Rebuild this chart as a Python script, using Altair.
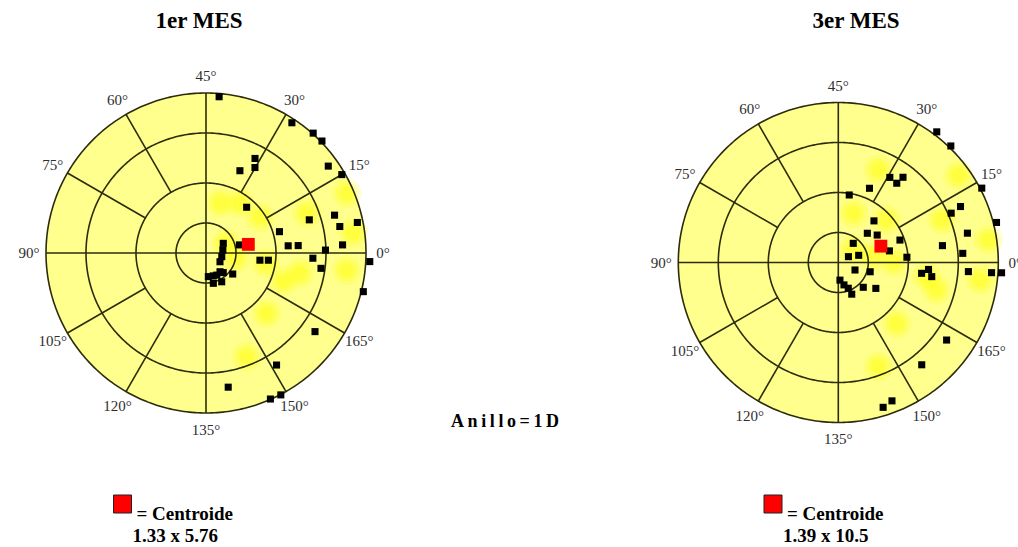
import altair as alt
import numpy as np
import pandas as pd

# ---- ring scale: magnitude (D) -> radius in plot units (outer ring = 1) ----
RING_D = [0, 1, 2, 3, 4, 5]
RING_R = [0, 0.1875, 0.4375, 0.75, 1.0, 1.25]
RINGS = [1, 2, 3, 4]
TICK_AXES = list(range(0, 180, 15))

# ---- 1er MES: axis (deg) and magnitude (D) of each eye ----
M1_AXIS = [42.6, 28.3, 24.1, 22.0, 17.7, 15.0, 31.3, 30.1, 33.8, 24.2,
           8.9, 8.2, 5.6, 5.7, 8.1, 1.7, 2.5, 2.3, 0.7, 178.5,
           178.6, 176.2, 176.2, 176.7, 173.1, 162.1, 151.1, 139.7, 146.9, 148.9,
           14.6, 5.1, 173.4, 6.8, 153.4, 143.8, 137.8, 148.0, 155.7, 160.9,
           141.8, 149.3, 164.0]
M1_MAG = [3.92, 3.90, 4.02, 4.03, 3.75, 3.92, 2.73, 2.57, 2.38, 1.78,
          2.77, 3.35, 3.41, 3.86, 2.13, 3.42, 2.25, 2.45, 2.99, 4.10,
          2.74, 2.92, 1.61, 1.82, 4.05, 3.36, 3.31, 3.40, 3.99, 4.01,
          0.66, 0.57, 0.54, 1.11, 0.78, 0.80, 0.79, 0.82, 0.87, 1.10,
          1.03, 1.07, 0.55]
M1_CENTROID = (1.33, 5.76)  # magnitude, axis
M1_DENS_AXIS = [37.0, 27.9, 16.8, 174.0, 170.0, 10.8, 11.5, 3.9, 176.5, 157.6, 145.7, 175.2, 175.2, 13.3]
M1_DENS_MAG = [1.55, 1.76, 1.87, 2.52, 2.25, 2.77, 3.82, 3.71, 3.54, 2.31, 2.83, 1.01, 1.77, 0.75]

# ---- 3er MES ----
M3_AXIS = [26.5, 23.0, 29.4, 26.8, 26.4, 33.6, 40.4, 13.7, 12.3, 11.8,
           7.1, 24.7, 22.6, 17.6, 10.0, 26.0, 6.4, 6.4, 4.6, 2.1,
           2.2, 15.0, 9.7, 167.9, 171.9, 176.3, 177.8, 175.7, 178.0, 178.1,
           178.2, 137.7, 142.1, 145.6, 146.5, 157.6, 162.7, 162.2, 154.6, 143.6,
           145.6]
M3_MAG = [4.09, 4.05, 2.59, 2.57, 2.74, 2.21, 1.96, 4.04, 3.36, 3.08,
          4.08, 1.62, 1.28, 1.44, 1.89, 0.81, 1.56, 3.31, 2.71, 3.12,
          1.97, 0.39, 0.72, 0.61, 1.08, 2.28, 2.41, 2.49, 3.26, 3.84,
          4.09, 0.59, 0.77, 0.92, 1.11, 1.13, 1.39, 3.33, 3.30, 3.79,
          3.71]
M3_CENTROID = (1.39, 10.5)
M3_DENS_AXIS = [33.3, 36.5, 20.7, 18.0, 11.2, 4.3, 175.4, 172.2, 176.5, 156.9, 145.5, 19.9, 4.7, 0.4]
M3_DENS_MAG = [2.62, 1.54, 1.86, 3.71, 2.84, 3.79, 2.39, 2.64, 3.57, 2.29, 2.83, 0.65, 1.14, 1.63]

FILL = "#FFFF8E"
DENS = "#FFFF00"
LINE = "#2C2C0C"
TEXT = "#2E2E2E"
SERIF = "Liberation Serif"
PX_PER_UNIT = 160.0
LABEL_R = 1.106


def to_xy(axis, mag):
    """Double-angle plot: axis angle is doubled, magnitude follows the ring scale."""
    r = np.interp(np.asarray(mag, dtype=float), RING_D, RING_R)
    t = np.deg2rad(2.0 * np.asarray(axis, dtype=float))
    return r * np.cos(t), r * np.sin(t)


def polar_panel(axis, mag, centroid, dens_axis, dens_mag, title, title_x,
                legend_x, width, height, cx, cy):
    xdom = [-cx / PX_PER_UNIT, (width - cx) / PX_PER_UNIT]
    ydom = [-(height - cy) / PX_PER_UNIT, cy / PX_PER_UNIT]
    sx = alt.Scale(domain=xdom, nice=False, zero=False)
    sy = alt.Scale(domain=ydom, nice=False, zero=False)

    def X(f):
        return alt.X(f, type="quantitative", scale=sx, axis=None)

    def Y(f):
        return alt.Y(f, type="quantitative", scale=sy, axis=None)

    # filled disc
    t = np.linspace(0, np.pi, 721)
    disc = pd.DataFrame({"x": np.cos(t), "y": np.sin(t), "y2": -np.sin(t)})
    disc_layer = alt.Chart(disc).mark_area(color=FILL, opacity=1).encode(
        x=X("x"), y=Y("y"), y2="y2")

    # density patches (soft, built from a few translucent discs)
    dx, dy = to_xy(dens_axis, dens_mag)
    dens = pd.DataFrame({"x": dx, "y": dy})
    dens_layers = [
        alt.Chart(dens).mark_circle(color=DENS, opacity=op, size=sz).encode(x=X("x"), y=Y("y"))
        for sz, op in [(900, 0.16), (500, 0.22), (220, 0.3)]
    ]

    # rings
    tt = np.linspace(0, 2 * np.pi, 361)
    ring_rows = []
    for d in RINGS:
        r = float(np.interp(d, RING_D, RING_R))
        for i, a in enumerate(tt):
            ring_rows.append({"ring": d, "i": i, "x": r * np.cos(a), "y": r * np.sin(a)})
    ring_layer = alt.Chart(pd.DataFrame(ring_rows)).mark_line(
        color=LINE, strokeWidth=1.6).encode(
        x=X("x"), y=Y("y"), detail="ring:N", order="i:Q")

    # spokes: main axes through the centre, the others from the second ring outwards
    inner = float(np.interp(2, RING_D, RING_R))
    sp = []
    for a in TICK_AXES:
        th = np.deg2rad(2 * a)
        r0 = 0.0 if (2 * a) % 90 == 0 else inner
        sp.append({"x": r0 * np.cos(th), "y": r0 * np.sin(th),
                   "x2": np.cos(th), "y2": np.sin(th)})
    spoke_layer = alt.Chart(pd.DataFrame(sp)).mark_rule(
        color=LINE, strokeWidth=1.6).encode(x=X("x"), y=Y("y"), x2="x2", y2="y2")

    # angle labels
    lx, ly = to_xy(TICK_AXES, [4] * len(TICK_AXES))
    labels = pd.DataFrame({"x": lx * LABEL_R, "y": ly * LABEL_R,
                           "label": [f"{a}°" for a in TICK_AXES]})
    label_layer = alt.Chart(labels).mark_text(
        font=SERIF, fontSize=15, color=TEXT, align="center", baseline="middle",
        clip=True).encode(x=X("x"), y=Y("y"), text="label:N")

    # eyes
    px, py = to_xy(axis, mag)
    pts = pd.DataFrame({"x": px, "y": py})
    pts_layer = alt.Chart(pts).mark_square(size=50, color="black", opacity=1).encode(
        x=X("x"), y=Y("y"))

    # centroid
    cxv, cyv = to_xy([centroid[1]], [centroid[0]])
    cen = pd.DataFrame({"x": cxv, "y": cyv})
    cen_layer = alt.Chart(cen).mark_square(size=165, color="#FF0000", opacity=1).encode(
        x=X("x"), y=Y("y"))

    # title and centroid note
    one = pd.DataFrame({"title": [title],
                        "note": ["= Centroide"],
                        "value": [f"{centroid[0]} x {centroid[1]}"]})
    title_layer = alt.Chart(one).mark_text(
        font=SERIF, fontSize=23, fontWeight="bold", color="black",
        align="center", baseline="alphabetic").encode(
        x=alt.value(title_x), y=alt.value(28), text="title:N")
    key_layer = alt.Chart(one).mark_square(
        size=324, color="#FF0000", opacity=1, stroke="#222222", strokeWidth=1).encode(
        x=alt.value(legend_x), y=alt.value(504))
    note_layer = alt.Chart(one).mark_text(
        font=SERIF, fontSize=19, fontWeight="bold", color="black",
        align="left", baseline="alphabetic").encode(
        x=alt.value(legend_x + 14), y=alt.value(520), text="note:N")
    value_layer = alt.Chart(one).mark_text(
        font=SERIF, fontSize=19, fontWeight="bold", color="black",
        align="left", baseline="alphabetic").encode(
        x=alt.value(legend_x + 10), y=alt.value(542), text="value:N")

    return alt.layer(disc_layer, *dens_layers, spoke_layer, ring_layer,
                     pts_layer, cen_layer, label_layer, title_layer,
                     key_layer, note_layer, value_layer).properties(
        width=width, height=height)


H = 547
left = polar_panel(M1_AXIS, M1_MAG, M1_CENTROID, M1_DENS_AXIS, M1_DENS_MAG,
                   "1er MES", 199, 122.5, 412, H, 206, 253)
right = polar_panel(M3_AXIS, M3_MAG, M3_CENTROID, M3_DENS_AXIS, M3_DENS_MAG,
                    "3er MES", 236, 153, 398, H, 218.3, 262.5)

ring_note = pd.DataFrame({"t": ["\u2009".join("Anillo=1D")]})
middle = alt.Chart(ring_note).mark_text(
    font=SERIF, fontSize=18, fontWeight="bold", color="black",
    align="center", baseline="middle").encode(
    x=alt.value(93), y=alt.value(422), text="t:N").properties(width=208, height=H)

chart = alt.hconcat(left, middle, right, spacing=0).resolve_scale(
    x="independent", y="independent").properties(
    padding=0, background="white").configure_view(stroke=None)

chart.save("out.html", embed_options={"renderer": "svg", "actions": False})
